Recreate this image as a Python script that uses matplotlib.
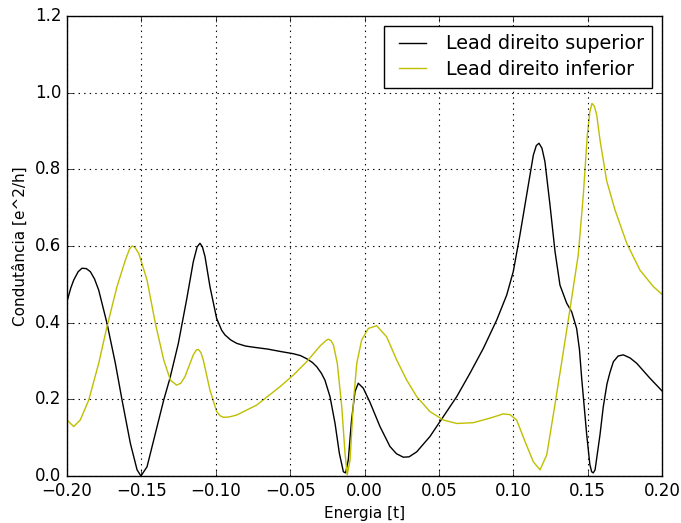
import matplotlib
matplotlib.use("Agg")
import matplotlib.pyplot as plt

plt.style.use("classic")

# Energia [t] and condutância for the upper right lead
energy_sup = [-0.2000, -0.1975, -0.1955, -0.1925, -0.1899, -0.1870, -0.1843, -0.1815,
              -0.1787, -0.1731, -0.1675, -0.1630,
              -0.1574, -0.1529, -0.1503, -0.1462, -0.1406, -0.1350, -0.1308, -0.1252,
              -0.1195, -0.1151, -0.1125, -0.1106, -0.1090, -0.1072, -0.1039, -0.0994,
              -0.0960, -0.0938, -0.0900, -0.0859, -0.0800, -0.0748, -0.0650, -0.0568,
              -0.0479, -0.0430, -0.0389, -0.0350, -0.0321, -0.0290, -0.0266, -0.0232,
              -0.0198, -0.0169, -0.0142, -0.0127, -0.0109, -0.0087, -0.0064, -0.0042,
              -0.0008, 0.0037, 0.0104, 0.0171, 0.0215, 0.0261, 0.0300, 0.0351,
              0.0440, 0.0530, 0.0620, 0.0709, 0.0799, 0.0889, 0.0956, 0.1000,
              0.1045, 0.1090, 0.1135, 0.1155, 0.1173, 0.1193, 0.1213, 0.1247,
              0.1281, 0.1314, 0.1359, 0.1393, 0.1426, 0.1445, 0.1460, 0.1494,
              0.1515, 0.1527, 0.1538, 0.1550, 0.1583, 0.1605, 0.1630, 0.1650,
              0.1673, 0.1705, 0.1740, 0.1785, 0.1830, 0.1919, 0.2000]
cond_sup = [0.455, 0.490, 0.511, 0.533, 0.542, 0.541, 0.533, 0.514,
            0.485, 0.398, 0.294, 0.198,
            0.085, 0.016, 0.000, 0.024, 0.111, 0.198, 0.255, 0.345,
            0.462, 0.559, 0.598, 0.607, 0.598, 0.572, 0.494, 0.411,
            0.380, 0.368, 0.355, 0.346, 0.339, 0.336, 0.331, 0.325,
            0.319, 0.314, 0.306, 0.296, 0.285, 0.268, 0.250, 0.207,
            0.137, 0.059, 0.011, 0.008, 0.042, 0.146, 0.220, 0.242,
            0.229, 0.192, 0.129, 0.077, 0.058, 0.049, 0.050, 0.063,
            0.103, 0.155, 0.207, 0.268, 0.333, 0.407, 0.472, 0.533,
            0.629, 0.733, 0.837, 0.862, 0.868, 0.855, 0.820, 0.707,
            0.585, 0.498, 0.451, 0.428, 0.385, 0.330, 0.255, 0.107,
            0.030, 0.011, 0.008, 0.016, 0.107, 0.180, 0.240, 0.270,
            0.298, 0.313, 0.316, 0.308, 0.294, 0.255, 0.222]

# Energia [t] and condutância for the lower right lead
energy_inf = [-0.2000, -0.1955, -0.1911, -0.1854, -0.1787, -0.1731, -0.1664, -0.1608,
              -0.1580, -0.1563, -0.1545, -0.1518, -0.1462, -0.1406, -0.1350, -0.1305,
              -0.1263, -0.1235, -0.1207, -0.1151, -0.1130, -0.1117, -0.1100, -0.1084,
              -0.1039, -0.0994, -0.0970, -0.0949, -0.0910, -0.0859, -0.0725, -0.0568,
              -0.0479, -0.0389, -0.0299, -0.0260, -0.0243, -0.0225, -0.0209, -0.0183,
              -0.0153, -0.0131, -0.0116, -0.0097, -0.0075, -0.0052, -0.0019, 0.0026,
              0.0082, 0.0149, 0.0216, 0.0284, 0.0351, 0.0440, 0.0530, 0.0620,
              0.0731, 0.0844, 0.0933, 0.0978, 0.1023, 0.1079, 0.1135, 0.1180,
              0.1225, 0.1269, 0.1326, 0.1382, 0.1437, 0.1471, 0.1498, 0.1515,
              0.1529, 0.1545, 0.1561, 0.1583, 0.1628, 0.1684, 0.1763, 0.1852,
              0.1942, 0.2000]
cond_inf = [0.146, 0.129, 0.146, 0.198, 0.294, 0.390, 0.494, 0.563,
            0.592, 0.600, 0.597, 0.581, 0.511, 0.398, 0.303, 0.250,
            0.237, 0.242, 0.259, 0.316, 0.329, 0.330, 0.322, 0.303,
            0.224, 0.168, 0.157, 0.153, 0.154, 0.159, 0.185, 0.233,
            0.263, 0.298, 0.339, 0.353, 0.357, 0.353, 0.342, 0.294,
            0.181, 0.059, 0.003, 0.042, 0.190, 0.294, 0.355, 0.385,
            0.392, 0.363, 0.303, 0.250, 0.207, 0.168, 0.146, 0.137,
            0.139, 0.151, 0.162, 0.160, 0.146, 0.090, 0.037, 0.016,
            0.055, 0.159, 0.298, 0.437, 0.577, 0.733, 0.890, 0.950,
            0.972, 0.965, 0.942, 0.877, 0.770, 0.694, 0.607, 0.537,
            0.494, 0.474]

x_ticks = [-0.20, -0.15, -0.10, -0.05, 0.00, 0.05, 0.10, 0.15, 0.20]
y_ticks = [0.0, 0.2, 0.4, 0.6, 0.8, 1.0, 1.2]

fig = plt.figure(figsize=(6.81, 5.23), dpi=100, facecolor="white")
ax = fig.add_axes([0.0984, 0.0899, 0.8737, 0.8795])

ax.plot(energy_sup, cond_sup, color="k", linewidth=1.0, label="Lead direito superior")
ax.plot(energy_inf, cond_inf, color=(0.75, 0.75, 0.0), linewidth=1.0,
        label="Lead direito inferior")

ax.set_xlim(-0.2, 0.2)
ax.set_ylim(0.0, 1.2)
ax.set_xticks(x_ticks)
ax.set_yticks(y_ticks)
ax.set_xticklabels([f"{v:.2f}".replace("-", "\u2212") for v in x_ticks])
ax.set_yticklabels([f"{v:.1f}" for v in y_ticks])
ax.tick_params(labelsize=12)
ax.grid(True, color="k", linestyle=":", linewidth=0.8)

ax.set_xlabel("Energia [t]", fontsize=11)
ax.set_ylabel("Condutância [e^2/h]", fontsize=11)

ax.legend(loc="upper right", fontsize=13.8, frameon=True, fancybox=False,
          handlelength=2.0, handletextpad=0.75, borderpad=0.45, labelspacing=0.35,
          borderaxespad=0.5)

fig.savefig("out.png", dpi=100, facecolor="white")
